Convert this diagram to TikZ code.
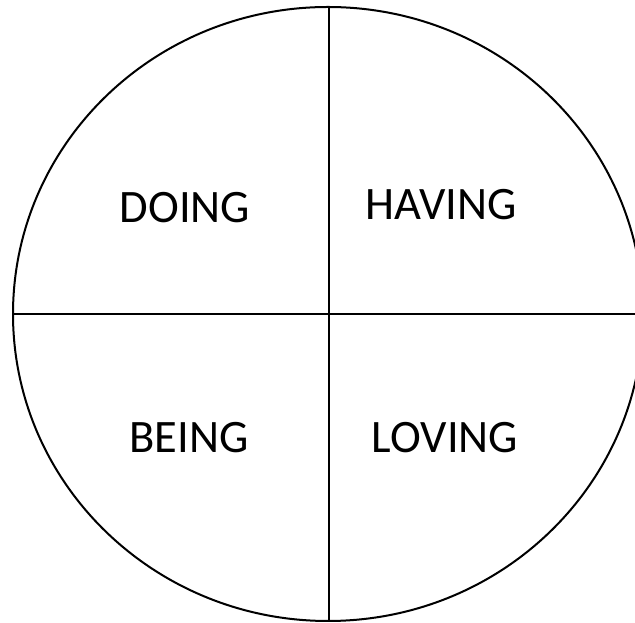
\documentclass[tikz,border=0pt]{standalone}
\usepackage{fontspec}
\setmainfont{Carlito}
\usetikzlibrary{shapes.geometric}
\begin{document}
\begin{tikzpicture}[x=1pt,y=1pt,
  lbl/.style={inner sep=0pt,anchor=base,font=\fontsize{46.5}{52}\selectfont},
  ln/.style={line width=2pt,black}]
\useasboundingbox (0,0) rectangle (635,623);
\clip (0,0) rectangle (635,623);
\node[draw,ln,ellipse,minimum width=630pt,minimum height=614pt,inner sep=0pt] (circ) at (328,309) {};
\coordinate (top) at (329,616);
\coordinate (bot) at (329,2);
\coordinate (lft) at (13,309);
\coordinate (rgt) at (636,309);
\draw[ln] (top) -- (bot);
\draw[ln] (lft) -- (rgt);
\node[lbl] (doing) at (185,400) {DOING};
\node[lbl] (having) at (441,403) {HAVING};
\node[lbl] (being) at (189,170) {BEING};
\node[lbl] (loving) at (445,170) {LOVING};
\end{tikzpicture}
\end{document}
